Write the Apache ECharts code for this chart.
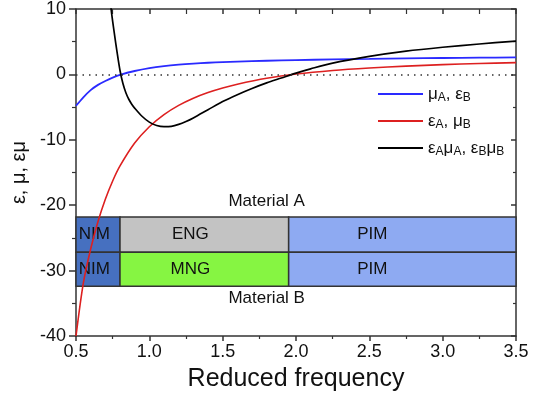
<!DOCTYPE html>
<html>
<head>
<meta charset="utf-8">
<script src="https://cdn.jsdelivr.net/npm/echarts@6/dist/echarts.min.js"></script>
<style>html,body{margin:0;padding:0;background:#fff}#c{width:539px;height:399px}</style>
</head>
<body>
<div id="c"></div>
<script>
// ---- data ----
var freq = [0.5,0.55,0.6,0.65,0.7,0.75,0.8,0.9,1.0,1.1,1.2,1.3,1.4,1.5,1.6,1.8,2.0,2.25,2.5,2.75,3.0,3.25,3.5];
var muA_epsB = [-4.8,-3.5,-2.4,-1.6,-1.0,-0.5,-0.08,0.52,0.97,1.28,1.5,1.66,1.78,1.88,1.96,2.09,2.19,2.29,2.37,2.45,2.51,2.56,2.6];
var epsA_muB = [-40,-31.9,-26.7,-22.5,-19.1,-16.3,-14.0,-10.5,-8.0,-6.15,-4.74,-3.64,-2.77,-2.07,-1.5,-0.6,0.05,0.6,0.98,1.27,1.49,1.66,1.8];
var freqProd = [0.72,0.74,0.76,0.78,0.80,0.82,0.84,0.86,0.88,0.90,0.95,1.0,1.05,1.1,1.15,1.2,1.25,1.3,1.4,1.5,1.6,1.7,1.8,1.9,2.0,2.1,2.25,2.5,2.75,3.0,3.25,3.5];
var product = [15.1,9.9,6.5,3.4,0.6,-1.4,-2.8,-3.8,-4.56,-5.16,-6.4,-7.3,-7.82,-8.0,-7.95,-7.65,-7.2,-6.65,-5.4,-4.15,-3.1,-2.15,-1.3,-0.55,0.2,0.85,1.72,2.75,3.55,4.15,4.65,5.1];
var seriesNames = ['muA, epsB', 'epsA, muB', 'epsAmuA, epsBmuB'];
// material bands: start, end, top, bottom, label x, label
var bandStart = [0.5, 0.8, 1.95, 0.5, 0.8, 1.95];
var bandEnd   = [0.8, 1.95, 3.5, 0.8, 1.95, 3.5];
var bandTop   = [-21.8, -21.8, -21.8, -27.2, -27.2, -27.2];
var bandBot   = [-27.2, -27.2, -27.2, -32.4, -32.4, -32.4];
var bandLabelX = [0.625, 1.28, 2.52, 0.625, 1.28, 2.52];
var bandLabel = ['NIM','ENG','PIM','NIM','MNG','PIM'];
var materialNames = ['Material A', 'Material B'];
var materialX = [1.8, 1.8];
var materialY = [-19.4, -34.3];

// ---- styles ----
var FONT = 'Liberation Sans, Arial, sans-serif';
var bandColors = {NIM:'#4670c0', ENG:'#c3c3c3', MNG:'#86f542', PIM:'#8eaaf2'};
var legendRich = {};
legendRich[seriesNames[0]] = '{n|\u03bc}{s|A}{n|, \u03b5}{s|B}';
legendRich[seriesNames[1]] = '{n|\u03b5}{s|A}{n|, \u03bc}{s|B}';
legendRich[seriesNames[2]] = '{n|\u03b5}{s|A}{n|\u03bc}{s|A}{n|, \u03b5}{s|B}{n|\u03bc}{s|B}';

function pairs(xs, ys){ return xs.map(function(x,i){ return [x, ys[i]]; }); }

var bandData = bandStart.map(function(s,i){ return [s, bandEnd[i], bandTop[i], bandBot[i], bandLabelX[i], i]; });
var matData = materialNames.map(function(n,i){ return [materialX[i], materialY[i], i]; });

var chart = echarts.init(document.getElementById('c'), null, {renderer:'canvas'});
var axisLineStyle = {color:'#333', width:1.5};
chart.setOption({
  animation:false,
  grid:{left:76, right:23, top:9, bottom:63},
  legend:{
    orient:'vertical', left:373, top:78, itemWidth:45, itemHeight:2, itemGap:6, icon:'rect',
    data: seriesNames,
    formatter: function(name){ return legendRich[name]; },
    textStyle:{ rich:{
      n:{fontSize:17, fontFamily:FONT, color:'#111', lineHeight:20},
      s:{fontSize:12, fontFamily:FONT, color:'#111', lineHeight:20, verticalAlign:'bottom', padding:[9,0,0,0]}
    }}
  },
  xAxis:[{
    type:'value', min:0.5, max:3.5, interval:0.5,
    name:'Reduced frequency', nameLocation:'middle', nameGap:31,
    nameTextStyle:{fontSize:25, fontFamily:FONT, color:'#111'},
    axisLine:{onZero:false, lineStyle:axisLineStyle},
    axisTick:{show:true, length:5, lineStyle:axisLineStyle},
    minorTick:{show:true, splitNumber:2, length:3, lineStyle:{color:'#333', width:1.2}},
    axisLabel:{fontSize:18, fontFamily:FONT, color:'#111', margin:7, formatter:function(v){return v.toFixed(1);}},
    splitLine:{show:false}
  },{
    type:'value', position:'top', min:0.5, max:3.5, interval:0.5,
    axisLine:{onZero:false, lineStyle:axisLineStyle},
    axisTick:{show:true, inside:true, length:5, lineStyle:axisLineStyle},
    minorTick:{show:true, splitNumber:2, length:5, lineStyle:{color:'#333', width:1.2}},
    axisLabel:{show:false}, splitLine:{show:false}
  }],
  yAxis:[{
    type:'value', min:-40, max:10, interval:10,
    name:'\u03b5, \u03bc, \u03b5\u03bc', nameLocation:'middle', nameGap:46,
    nameTextStyle:{fontSize:20, fontFamily:FONT, color:'#111'},
    axisLine:{show:true, onZero:false, lineStyle:axisLineStyle},
    axisTick:{show:true, length:7, lineStyle:axisLineStyle},
    minorTick:{show:true, splitNumber:2, length:4, lineStyle:{color:'#333', width:1.2}},
    axisLabel:{fontSize:18, fontFamily:FONT, color:'#111', margin:10},
    splitLine:{show:false}
  },{
    type:'value', position:'right', min:-40, max:10, interval:10,
    axisLine:{show:true, onZero:false, lineStyle:axisLineStyle},
    axisTick:{show:true, inside:true, length:5, lineStyle:axisLineStyle},
    minorTick:{show:true, splitNumber:2, length:3, lineStyle:{color:'#333', width:1.2}},
    axisLabel:{show:false}, splitLine:{show:false}
  }],
  series:[
    {
      type:'custom', name:'bands', z:1, silent:true,
      data: bandData,
      renderItem:function(params, api){
        var p0 = api.coord([api.value(0), api.value(2)]);
        var p1 = api.coord([api.value(1), api.value(3)]);
        var lbl = api.coord([api.value(4), (api.value(2)+api.value(3))/2]);
        var name = bandLabel[api.value(5)];
        return {type:'group', children:[
          {type:'rect', shape:{x:p0[0], y:p0[1], width:p1[0]-p0[0], height:p1[1]-p0[1]},
           style:{fill:bandColors[name], stroke:'#333', lineWidth:1.5}},
          {type:'text', x:lbl[0], y:lbl[1], style:{text:name, fill:'#111', font:'17px '+FONT, textAlign:'center', textVerticalAlign:'middle'}}
        ]};
      }
    },
    {
      type:'custom', name:'materials', z:1, silent:true,
      data: matData,
      renderItem:function(params, api){
        var p = api.coord([api.value(0), api.value(1)]);
        return {type:'text', x:p[0], y:p[1], style:{text:materialNames[api.value(2)], fill:'#111', font:'17px '+FONT, textAlign:'center', textVerticalAlign:'middle'}};
      }
    },
    {
      name:seriesNames[0], type:'line', data:pairs(freq, muA_epsB), symbol:'none', smooth:0.3, z:3,
      lineStyle:{color:'#2a2aff', width:1.8}, itemStyle:{color:'#2a2aff'},
      markLine:{silent:true, symbol:'none', label:{show:false},
        lineStyle:{color:'#333', width:1.5, type:[1.5,5]}, data:[{yAxis:0}]}
    },
    {
      name:seriesNames[1], type:'line', data:pairs(freq, epsA_muB), symbol:'none', smooth:0.3, z:3,
      lineStyle:{color:'#dd2020', width:1.6}, itemStyle:{color:'#dd2020'}
    },
    {
      name:seriesNames[2], type:'line', data:pairs(freqProd, product), symbol:'none', smooth:0.3, z:3,
      lineStyle:{color:'#000', width:1.7}, itemStyle:{color:'#000'}
    }
  ]
});
</script>
</body>
</html>
